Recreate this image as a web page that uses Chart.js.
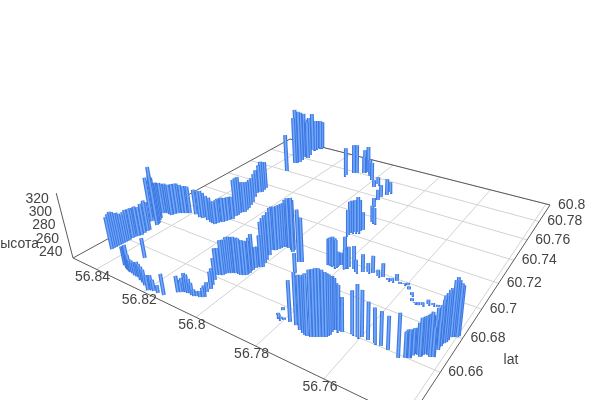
<!DOCTYPE html>
<html><head><meta charset="utf-8"><style>html,body{margin:0;background:#fff}canvas{display:block}</style>
<script src="https://cdn.jsdelivr.net/npm/chart.js@4"></script></head>
<body><canvas id="c" width="600" height="400"></canvas>
<script>
const lonValues=[56.8450,56.8450,56.8449,56.8449,56.8448,56.8448,56.8447,56.8446,56.8446,56.8450,56.8436,56.8439,56.8439,56.8489,56.8471,56.8443,56.8445,56.8447,56.8467,56.8487,56.8472,56.8451,56.8443,56.8429,56.8408,56.8385,56.8347,56.8346,56.8305,56.8285,56.8281,56.8282,56.8271,
56.8267,56.8263,56.8256,56.8260,56.8263,56.8253,56.8260,56.8276,56.8308,56.8297,56.8305,56.8326,56.8337,56.8339,56.8332,56.8343,56.8336,56.8327,56.8356,56.8351,56.8345,56.8338,56.8112,56.8095,56.8085,56.8062,56.8053,56.8006,56.7971,56.7970,56.7901,56.7902,56.7912,
56.7910,56.7897,56.7852,56.7843,56.7852,56.7859,56.7867,56.7878,56.7877,56.7839,56.7764,56.7790,56.7843,56.7835,56.7827,56.7814,56.7812,56.7790,56.7787,56.7752,56.7735,56.7722,56.7708,56.7688,56.7674,56.7655,56.7643,56.7632,56.7618,56.7608,56.7597,56.7586,56.7568,
56.7556,56.7546,56.7535,56.7525,56.7514,56.7501,56.7487,56.7399,56.7408,56.7412,56.7414,56.7418,56.7423,56.7432,56.7420,56.7421,56.7427,56.7438,56.7444,56.7447,56.7460,56.7463,56.7467,56.7471,56.7475,56.7489,56.7522,56.7543,56.7562,56.7580,56.7598,56.7608,56.7624,
56.7649,56.7664,56.7672,56.7669,56.7673,56.7686,56.7698,56.7715,56.7721,56.7752,56.7782,56.7826,56.7800,56.7809,56.7818,56.7825,56.7898,56.7921,56.7913,56.7972,56.7968,56.7991,56.8005,56.8012,56.8018,56.8029,56.8008,56.7995,56.8008,56.8010,56.8008,
56.8009,56.8024,56.8042,56.8050,56.8059,56.8064,56.8067,56.8075,56.8082,56.8059,56.8050,56.8040,56.8051,56.8068,56.8087,56.8100,56.8111,56.8118,56.8141,56.8162,56.8186,56.8195,56.8236,56.8265,56.8282,56.8304,56.8317,56.8330,56.8326,
56.8446,56.8445,56.8446,56.8440,56.8438,56.8477,56.8460,56.8481,56.8461,56.8447,56.8438,56.8420,56.8414,56.8360,56.8323,56.8295,56.8262,56.8261,56.8259,56.8257,56.8268,56.8294,56.8303,56.8301,
56.8343,56.8336,56.8337,56.8350,56.8059,56.8029,56.7857,56.7876,56.7837,56.7819,56.7812,56.7807,56.7794,56.7782,56.7404,56.7397,56.7415,56.7420,56.7421,56.7419,56.7425,56.7433,56.7441,56.7446,
56.7454,56.7463,56.7465,56.7473,56.7762,56.7743,56.7730,56.7705,56.7692,56.7679,56.7671,56.7671,56.7668,56.7658,56.7977,56.8000,56.8010,56.8014,56.8024,56.8017,56.8003,56.8000,56.8009,56.8012,
56.8010,56.8016,56.8032,56.8054,56.8066,56.8070,56.8057,56.8050,56.8347,56.8323,56.8310,56.8295,56.8273,56.8249,56.8220,56.8191,56.8178,56.8116,56.8107,56.8092,56.8076,56.8061,56.8044];
const latValues=[60.6503,60.6514,60.6524,60.6535,60.6546,60.6556,60.6567,60.6578,60.6620,60.6648,60.6661,60.6702,60.6713,60.6814,60.6796,60.6765,60.6774,60.6783,60.6823,60.6864,60.6878,60.6874,60.6905,60.6919,60.6938,60.6946,60.6936,60.6949,60.6929,60.6925,60.6940,60.6953,60.6961,
60.6976,60.6991,60.7009,60.7054,60.7075,60.7096,60.7139,60.7201,60.7291,60.7315,60.7364,60.7599,60.7720,60.7735,60.7741,60.7817,60.7823,60.7815,60.7931,60.7954,60.7997,60.8004,60.7737,60.7784,60.7793,60.7815,60.7839,60.7760,60.7691,60.7735,60.7646,60.7685,60.7609,
60.7571,60.7493,60.7355,60.7352,60.7266,60.7237,60.7229,60.7209,60.7188,60.7071,60.6964,60.6976,60.6944,60.6943,60.6941,60.6935,60.6955,60.6950,60.6961,60.6950,60.6966,60.6978,60.6983,60.6975,60.6980,60.6973,60.6975,60.6987,60.6975,60.6984,60.6986,60.6962,60.6934,
60.6899,60.6894,60.6889,60.6898,60.6916,60.6921,60.6920,60.6797,60.6789,60.6785,60.6764,60.6742,60.6713,60.6717,60.6697,60.6654,60.6649,60.6661,60.6645,60.6630,60.6640,60.6624,60.6604,60.6601,60.6597,60.6584,60.6600,60.6605,60.6605,60.6607,60.6609,60.6599,60.6603,
60.6593,60.6592,60.6584,60.6555,60.6538,60.6526,60.6514,60.6504,60.6505,60.6537,60.6534,60.6576,60.6531,60.6529,60.6534,60.6542,60.6803,60.6880,60.6887,60.6946,60.6930,60.6947,60.6944,60.6927,60.6901,60.6892,60.6816,60.6764,60.6752,60.6723,60.6699,
60.6680,60.6667,60.6666,60.6659,60.6650,60.6645,60.6625,60.6618,60.6611,60.6549,60.6525,60.6472,60.6461,60.6453,60.6458,60.6454,60.6443,60.6436,60.6391,60.6388,60.6388,60.6379,60.6406,60.6421,60.6422,60.6428,60.6433,60.6439,60.6534,
60.6589,60.6600,60.6631,60.6647,60.6681,60.6778,60.6807,60.6870,60.6876,60.6890,60.6911,60.6927,60.6933,60.6936,60.6935,60.6927,60.7004,60.7040,60.7091,60.7118,60.7170,60.7250,60.7309,60.7339,
60.7714,60.7771,60.7858,60.7974,60.7818,60.7799,60.7250,60.7222,60.6940,60.6939,60.6946,60.6960,60.6963,60.6965,60.6793,60.6806,60.6751,60.6721,60.6733,60.6656,60.6651,60.6654,60.6653,60.6636,
60.6635,60.6632,60.6606,60.6599,60.6532,60.6517,60.6510,60.6508,60.6520,60.6532,60.6546,60.6572,60.6588,60.6591,60.6941,60.6949,60.6939,60.6915,60.6897,60.6854,60.6793,60.6759,60.6742,60.6712,
60.6688,60.6674,60.6668,60.6655,60.6635,60.6580,60.6535,60.6501,60.6449,60.6436,60.6430,60.6427,60.6422,60.6411,60.6396,60.6384,60.6388,60.6439,60.6448,60.6454,60.6453,60.6459,60.6468];
const altValues=[274,277,279,277,274,273,270,267,270,267,269,273,269,285,298,318,299,289,282,274,273,274,273,271,268,265,269,264,264,260,262,262,264,
262,262,261,285,284,273,268,265,264,277,270,290,323,303,318,306,295,292,294,279,275,273,273,275,275,254,270,255,237,237,252,242,245,
242,240,251,249,253,280,275,274,264,245,259,250,261,264,267,265,243,252,250,243,251,238,250,234,245,228,229,235,228,226,228,229,229,
229,226,229,229,231,228,228,297,305,301,294,291,280,274,262,264,284,275,275,276,258,260,262,262,259,284,270,271,272,276,288,296,284,
272,288,298,306,312,317,316,309,303,293,282,229,228,228,229,228,254,303,291,301,307,301,292,291,291,289,292,292,255,278,272,
275,278,278,278,278,273,276,264,264,249,241,241,233,234,245,252,238,248,255,236,246,246,247,247,244,243,262,256,255,
270,272,270,271,271,295,285,273,273,274,273,269,269,267,264,260,261,284,274,271,267,264,271,273,
308,313,295,277,266,254,274,274,264,266,246,243,249,255,301,293,294,286,289,273,280,279,275,275,
267,259,262,260,297,299,303,315,317,315,309,300,295,287,303,297,291,291,291,290,292,272,256,274,
273,276,278,278,275,257,247,239,253,259,249,243,245,248,247,246,241,242,245,251,242,232,238];
const lonTicks=[56.84,56.82,56.8,56.78,56.76,56.74];
const latTicks=[60.66,60.68,60.7,60.72,60.74,60.76,60.78,60.8];
const altTicks=[240,260,280,300,320];
const altTitle='высота', latTitle='lat';

const LON0=56.851,LONS=0.1124,LAT0=60.636,LATS=0.1639,ALT0=225,ALTTOP=323,K=0.000618,VX=350,VY=1330;
function proj(lon,lat,alt){
  const u=(LON0-lon)/LONS,v=(lat-LAT0)/LATS;
  const w=1-0.3059*u+0.4582*v;
  const x=(210.9*u+349.9*v+73)/w,y=(33.5*u-55.3*v+258)/w;
  const f=K*(alt-ALT0)/w;
  return {x:x+(x-VX)*f,y:y+(y-VY)*f,w};
}
const LON_END=LON0-LONS,LAT_END=LAT0+LATS;
const ds=[];
function line(pts,color,width){ds.push({data:pts,borderColor:color,borderWidth:width,pointRadius:0,borderCapStyle:'butt',fill:false,tension:0});}
const order=lonValues.map((_,i)=>i).sort((a,b)=>proj(lonValues[a],latValues[a],ALT0).w-proj(lonValues[b],latValues[b],ALT0).w);
for(const i of order){
  const pts=[proj(lonValues[i],latValues[i],ALT0),proj(lonValues[i],latValues[i],altValues[i])];
  line(pts,'#72aafa',1.6);
  line(pts,'#3f78e2',3.9);
}
const AX='#5a5a5a';
line([proj(LON0,LAT0,ALT0),proj(LON_END,LAT0,ALT0)],AX,1);
line([proj(LON_END,LAT0,ALT0),proj(LON_END,LAT_END,ALT0)],AX,1);
line([proj(LON0,LAT0,ALT0),proj(LON0,LAT_END,ALT0)],AX,1);
line([proj(LON0,LAT_END,ALT0),proj(LON_END,LAT_END,ALT0)],AX,1);
line([proj(LON0,LAT0,ALT0),proj(LON0,LAT0,ALTTOP)],AX,1);
for(const t of lonTicks)line([proj(t,LAT0,ALT0),proj(t,LAT_END,ALT0)],'#d2d2d2',1);
for(const t of latTicks)line([proj(LON0,t,ALT0),proj(LON_END,t,ALT0)],'#d2d2d2',1);

const labels={id:'labels',afterDraw(ch){
  const c=ch.ctx,X=ch.scales.x,Y=ch.scales.y;
  const put=(p,dx,dy,s,al)=>{c.textAlign=al;c.fillText(s,X.getPixelForValue(p.x)+dx,Y.getPixelForValue(p.y)+dy);};
  c.save();c.font='14px "Liberation Sans"';c.fillStyle='#444';c.textBaseline='middle';
  for(const t of lonTicks.slice(0,5))put(proj(t,LAT0,ALT0),-4,8,String(t),'center');
  for(const t of latTicks)put(proj(LON_END,t,ALT0),8,0,String(t),'left');
  for(const t of altTicks)put(proj(LON0,LAT0,t),-8,4,String(t),'right');
  c.textAlign='right';c.fillText(altTitle,39,244);
  c.textAlign='center';c.fillText(latTitle,511,360);
  c.restore();
}};
new Chart(document.getElementById('c'),{type:'line',data:{datasets:ds},plugins:[labels],options:{
  responsive:false,animation:false,parsing:false,normalized:true,layout:{padding:0},
  plugins:{legend:{display:false},tooltip:{enabled:false}},
  scales:{x:{type:'linear',display:false,min:0,max:600},y:{type:'linear',display:false,min:0,max:400,reverse:true}}
}});
</script></body></html>
